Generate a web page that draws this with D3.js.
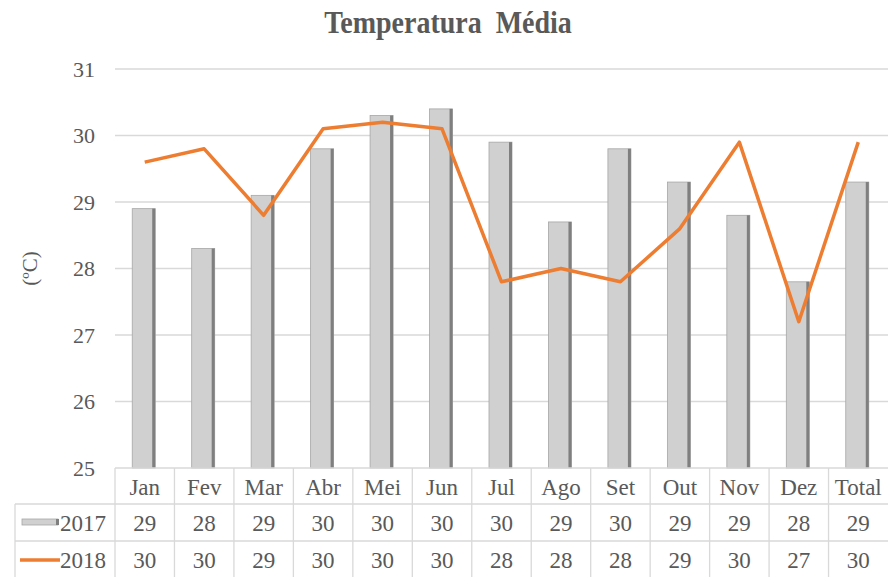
<!DOCTYPE html>
<html>
<head>
<meta charset="utf-8">
<script src="https://cdn.jsdelivr.net/npm/d3@7"></script>
<style>
  body { margin: 0; background: #fff; }
  text { font-family: "Liberation Serif", "Times New Roman", serif; fill: #595959; }
</style>
</head>
<body>
<svg id="chart" width="888" height="577"></svg>
<script>
// data
const months = ["Jan", "Fev", "Mar", "Abr", "Mei", "Jun", "Jul", "Ago", "Set", "Out", "Nov", "Dez", "Total"];
const temp2017 = [28.9, 28.3, 29.1, 29.8, 30.3, 30.4, 29.9, 28.7, 29.8, 29.3, 28.8, 27.8, 29.3];
const temp2018 = [29.6, 29.8, 28.8, 30.1, 30.2, 30.1, 27.8, 28.0, 27.8, 28.6, 29.9, 27.2, 29.9];
const yTicks = [25, 26, 27, 28, 29, 30, 31];

const svg = d3.select("#chart");
const margin = {top: 69, right: 0, bottom: 109, left: 115};
const W = 888, H = 577;
const plotBottom = H - margin.bottom;

const x = d3.scaleBand().domain(months).range([margin.left, W]).padding(0);
const y = d3.scaleLinear().domain([25, 31]).range([plotBottom, margin.top]);

// title (slightly stretched vertically like the original)
svg.append("text")
    .attr("transform", "translate(448,33) scale(1,1.13)")
    .attr("text-anchor", "middle")
    .style("font-size", "28px")
    .style("font-weight", 700)
    .text("Temperatura\u00a0 Média");

// gridlines
svg.append("g").selectAll("line")
    .data(yTicks.slice(1))
    .join("line")
    .attr("x1", margin.left).attr("x2", W)
    .attr("y1", d => y(d)).attr("y2", d => y(d))
    .attr("stroke", "#d9d9d9").attr("stroke-width", 1.3);

// y tick labels
svg.append("g").selectAll("text")
    .data(yTicks)
    .join("text")
    .attr("x", 95).attr("y", d => y(d))
    .attr("text-anchor", "end")
    .attr("dominant-baseline", "central")
    .style("font-size", "22px")
    .text(d => d);

// y axis title
svg.append("text")
    .attr("transform", "translate(30," + y(28) + ") rotate(-90)")
    .attr("text-anchor", "middle")
    .attr("dominant-baseline", "central")
    .style("font-size", "21px")
    .text("(ºC)");

// bars with a darker right side
const barW = 23;
const bars = svg.append("g").selectAll("g")
    .data(months.map((m, i) => ({m: m, v: temp2017[i]})))
    .join("g");
bars.append("rect")
    .attr("x", d => x(d.m) + x.bandwidth() / 2 - barW / 2 - 1)
    .attr("y", d => y(d.v))
    .attr("width", barW)
    .attr("height", d => plotBottom - y(d.v))
    .attr("fill", "#d0d0d0")
    .attr("stroke", "#a6a6a6").attr("stroke-width", 0.8);
bars.append("rect")
    .attr("x", d => x(d.m) + x.bandwidth() / 2 + barW / 2 - 4)
    .attr("y", d => y(d.v))
    .attr("width", 3)
    .attr("height", d => plotBottom - y(d.v))
    .attr("fill", "#7f7f7f");

// 2018 line
svg.append("path")
    .datum(temp2018)
    .attr("fill", "none")
    .attr("stroke", "#ed7d31")
    .attr("stroke-width", 3.5)
    .attr("stroke-linejoin", "round")
    .attr("d", d3.line()
        .x((d, i) => x(months[i]) + x.bandwidth() / 2)
        .y(d => y(d)));

// data table
const rowH = 36;
const rows = [plotBottom, plotBottom + rowH, plotBottom + 2 * rowH + 1];
const legendLeft = 15;
const table = svg.append("g")
    .attr("stroke", "#d9d9d9").attr("stroke-width", 1.3);
// horizontal lines
table.append("line").attr("x1", margin.left).attr("x2", W).attr("y1", rows[0]).attr("y2", rows[0]);
table.append("line").attr("x1", legendLeft).attr("x2", W).attr("y1", rows[1]).attr("y2", rows[1]);
table.append("line").attr("x1", legendLeft).attr("x2", W).attr("y1", rows[2]).attr("y2", rows[2]);
// vertical lines
table.selectAll("line.v")
    .data(months)
    .join("line")
    .attr("class", "v")
    .attr("x1", d => x(d)).attr("x2", d => x(d))
    .attr("y1", rows[0]).attr("y2", H);
table.append("line").attr("x1", legendLeft).attr("x2", legendLeft).attr("y1", rows[1]).attr("y2", H);

// header row
svg.append("g").selectAll("text")
    .data(months)
    .join("text")
    .attr("x", d => x(d) + x.bandwidth() / 2)
    .attr("y", rows[0] + rowH / 2 + 1)
    .attr("text-anchor", "middle")
    .attr("dominant-baseline", "central")
    .style("font-size", "23px")
    .text(d => d);

// value rows
[temp2017, temp2018].forEach((vals, r) => {
    svg.append("g").selectAll("text")
        .data(vals)
        .join("text")
        .attr("x", (d, i) => x(months[i]) + x.bandwidth() / 2)
        .attr("y", rows[r + 1] + rowH / 2 + 1)
        .attr("text-anchor", "middle")
        .attr("dominant-baseline", "central")
        .style("font-size", "23px")
        .text(d => Math.round(d));
});

// legend keys
svg.append("rect")
    .attr("x", 22).attr("y", rows[1] + rowH / 2 - 3)
    .attr("width", 36).attr("height", 6)
    .attr("fill", "#d0d0d0").attr("stroke", "#a6a6a6").attr("stroke-width", 0.8);
svg.append("rect")
    .attr("x", 56).attr("y", rows[1] + rowH / 2 - 3)
    .attr("width", 3).attr("height", 6)
    .attr("fill", "#7f7f7f");
svg.append("line")
    .attr("x1", 20).attr("x2", 60)
    .attr("y1", rows[2] + rowH / 2 + 1).attr("y2", rows[2] + rowH / 2 + 1)
    .attr("stroke", "#ed7d31").attr("stroke-width", 3.5);
svg.append("text")
    .attr("x", 60).attr("y", rows[1] + rowH / 2 + 1)
    .attr("dominant-baseline", "central")
    .style("font-size", "23px")
    .text("2017");
svg.append("text")
    .attr("x", 60).attr("y", rows[2] + rowH / 2 + 1)
    .attr("dominant-baseline", "central")
    .style("font-size", "23px")
    .text("2018");
</script>
</body>
</html>
